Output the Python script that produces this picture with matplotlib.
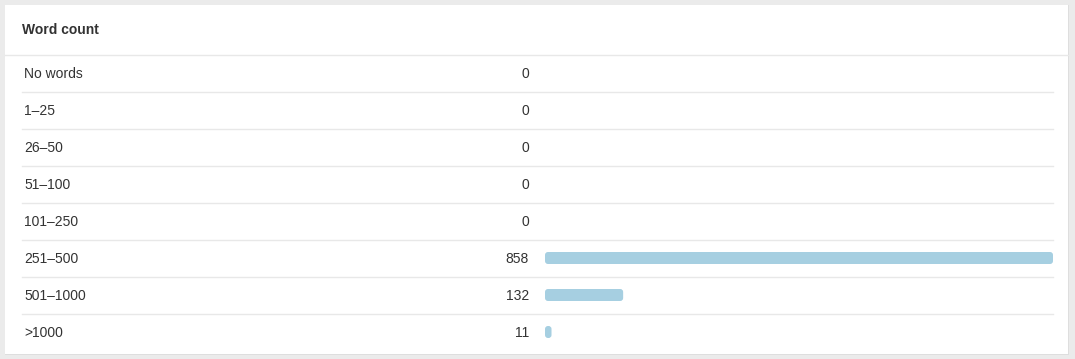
import matplotlib.pyplot as plt
from matplotlib.patches import Rectangle, FancyBboxPatch
from matplotlib.transforms import blended_transform_factory

categories = ['No words', '1\u201325', '26\u201350', '51\u2013100', '101\u2013250',
              '251\u2013500', '501\u20131000', '>1000']
counts = [0, 0, 0, 0, 0, 858, 132, 11]

W, H = 1075, 359
plt.rcParams['font.family'] = ['Liberation Sans', 'DejaVu Sans']

fig = plt.figure(figsize=(W / 100, H / 100), dpi=100, facecolor='#ebebeb')


def fx(px):
    return px / W


def fy(py):
    return 1 - py / H


# white panel (drawn behind the axes)
fig.patches.append(Rectangle((fx(5), fy(355)), fx(1064), 350 / H,
                             transform=fig.transFigure, facecolor='#dedede',
                             edgecolor='none', zorder=-2))
fig.patches.append(Rectangle((fx(5), fy(354)), fx(1063), 349 / H,
                             transform=fig.transFigure, facecolor='white',
                             edgecolor='none', zorder=-1))

fig.text(fx(22), fy(30.5), 'Word count', fontsize=10, fontweight='bold',
         color='#333333', va='center', ha='left')

ax = fig.add_axes([fx(545), fy(350.5), fx(508), 296 / H])
ax.set_facecolor('none')
n = len(categories)
ax.set_xlim(0, max(counts))
ax.set_ylim(n - 0.5, -0.5)
ax.axis('off')

bars = ax.barh(range(n), counts, height=12 / 37, color='#a6cfe1')

# rounded corners
fig.canvas.draw()
x0, y0 = ax.transData.transform((0, 0))
x1, y1 = ax.transData.transform((1, 1))
px_x = abs(x1 - x0)
px_y = abs(y1 - y0)
r = 3 / px_x
for b in bars:
    b.set_visible(False)
    if b.get_width() <= 0:
        continue
    ax.add_patch(FancyBboxPatch((b.get_x(), b.get_y()), b.get_width(), b.get_height(),
                                boxstyle='round,pad=0,rounding_size=%f' % r,
                                mutation_aspect=px_x / px_y,
                                facecolor='#a6cfe1', edgecolor='none'))

tr = blended_transform_factory(fig.transFigure, ax.transData)
for i, (cat, v) in enumerate(zip(categories, counts)):
    ax.text(fx(24), i + 0.03, cat, transform=tr, fontsize=10, color='#333333',
            va='center', ha='left')
    ax.text(fx(529), i + 0.03, str(v), transform=tr, fontsize=10, color='#333333',
            va='center', ha='right')

# separators
ax.plot([fx(5), fx(1068)], [-0.5, -0.5], transform=tr, color='#e8e8e8',
        lw=1, clip_on=False)
for i in range(n - 1):
    ax.plot([fx(22), fx(1053)], [i + 0.5, i + 0.5], transform=tr,
            color='#e8e8e8', lw=1, clip_on=False)

fig.savefig('out.png', dpi=100, facecolor=fig.get_facecolor())
